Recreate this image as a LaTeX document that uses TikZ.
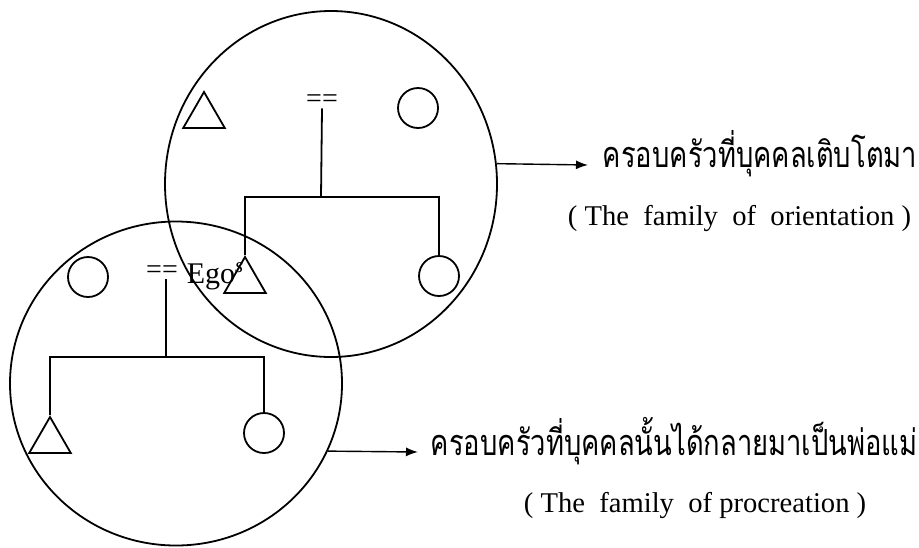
\documentclass[tikz,border=0pt]{standalone}
\usepackage{xcolor}
\usepackage{fontspec}
\setmainfont{Liberation Serif}
\newfontfamily\thaifont[Script=Thai, FakeStretch=0.76]{Loma}
\usepackage{tikz}
\usetikzlibrary{shapes.geometric, arrows.meta}

\begin{document}
\begin{tikzpicture}[x=0.5pt, y=-0.5pt, line width=0.9pt,
    fem/.style={draw, circle, minimum size=20pt, inner sep=0pt},
    male/.style={draw, regular polygon, regular polygon sides=3, minimum size=24pt, inner sep=0pt},
    ring/.style={draw, ellipse, inner sep=0pt},
    thtext/.style={anchor=base west, inner sep=0pt, font=\thaifont\fontsize{18}{21}\selectfont},
    entext/.style={anchor=base west, inner sep=0pt, font=\fontsize{14.3}{17}\selectfont},
    marr/.style={inner sep=0pt, font=\fontsize{14}{16}\selectfont}]
    \useasboundingbox (0,0) rectangle (919,547);

    % the two families
    \node[ring, minimum width=166pt, minimum height=173pt] at (331, 184) (orient) {};
    \node[ring, minimum width=166pt, minimum height=162pt] at (176, 383.5) (procr) {};

    % family of orientation
    \node[male] at (204, 116) (father) {};
    \node[fem] at (418, 108) (mother) {};
    \node[marr] at (322, 101) (mar1) {==};
    \node[male] at (245, 281) (ego) {};
    \node[fem] at (439, 276) (sister) {};
    \coordinate (bar1) at (321, 197);

    \draw (mar1.south) -- (bar1);
    \draw (ego.north) -- (ego.north |- bar1) -- (sister.north |- bar1) -- (sister.north);

    % family of procreation
    \node[fem] at (88, 277) (wife) {};
    \node[marr] at (162, 272) (mar2) {==};
    \node[anchor=base west, inner sep=0pt, font=\fontsize{15}{17}\selectfont] at (186, 283) (egotxt) {Ego\textsuperscript{\textit{s}}};
    \node[male] at (50, 441) (son) {};
    \node[fem] at (264, 433) (daughter) {};
    \coordinate (bar2) at (166, 357);

    \draw (mar2.south -| bar2) -- (bar2);
    \draw (son.north) -- (son.north |- bar2) -- (daughter.north |- bar2) -- (daughter.north);

    % labels
    \coordinate (otip) at (588, 165);
    \coordinate (ptip) at (418, 452);
    \draw[-{Latex[length=6pt, width=4.5pt]}, line width=0.7pt] (orient.7) -- (otip);
    \draw[-{Latex[length=6pt, width=4.5pt]}, line width=0.7pt] (procr.-24.5) -- (ptip);

    \node[thtext] at (602, 167) (orientth) {ครอบครัวที่บุคคลเติบโตมา};
    \node[entext] at (567, 225) (orienten) {( The\ \ family\ \ of\ \ orientation )};
    \node[thtext] at (430, 455) (procrth) {ครอบครัวที่บุคคลนั้นได้กลายมาเป็นพ่อแม่};
    \node[entext] at (523, 512) (procren) {( The\ \ family\ \ of procreation )};
\end{tikzpicture}
\end{document}
